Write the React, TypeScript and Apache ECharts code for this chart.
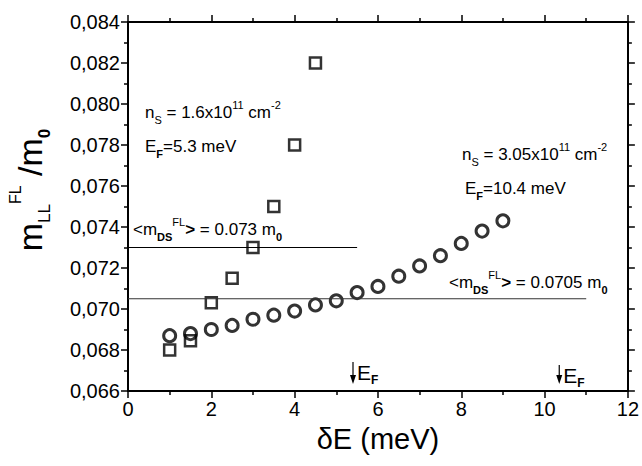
import React, { useEffect, useRef } from "react";
import * as echarts from "echarts";

const energies = [1, 1.5, 2, 2.5, 3, 3.5, 4, 4.5, 5, 5.5, 6, 6.5, 7, 7.5, 8, 8.5, 9];
const massLow = [0.068, 0.06845, 0.0703, 0.0715, 0.073, 0.075, 0.078, 0.082];
const massHigh = [
  0.0687, 0.0688, 0.069, 0.0692, 0.0695, 0.0697, 0.0699, 0.0702, 0.0704, 0.0708,
  0.0711, 0.0716, 0.0721, 0.0726, 0.0732, 0.0738, 0.0743,
];
const avgLow = 0.073;
const avgLowEnd = 5.5;
const avgHigh = 0.0705;
const avgHighEnd = 11;
const fermiArrows = [5.4, 10.35];

const FONT = "Liberation Sans, Arial, sans-serif";

export default function App() {
  const ref = useRef<HTMLDivElement>(null);
  useEffect(() => {
    document.body.style.margin = "0";
    const chart = echarts.init(ref.current!, null, { renderer: "svg" });
    const axisCommon = {
      min: 0,
      max: 12,
      interval: 2,
      axisLine: { onZero: false, lineStyle: { color: "#000", width: 2 } },
      axisTick: { inside: false, length: 7, lineStyle: { color: "#000", width: 1.5 } },
      minorTick: { show: true, splitNumber: 2, length: 4, lineStyle: { color: "#000", width: 1.5 } },
      splitLine: { show: false },
    };
    const yCommon = {
      min: 0.066,
      max: 0.084,
      interval: 0.002,
      axisLine: { onZero: false, lineStyle: { color: "#000", width: 2 } },
      axisTick: { inside: false, length: 7, lineStyle: { color: "#000", width: 1.5 } },
      minorTick: { show: true, splitNumber: 2, length: 4, lineStyle: { color: "#000", width: 1.5 } },
      splitLine: { show: false },
    };
    const rich = {
      n: { fontSize: 17, fontFamily: FONT, color: "#000", lineHeight: 26 },
      sub: { fontSize: 11, fontFamily: FONT, color: "#000", verticalAlign: "bottom", lineHeight: 12 },
      subb: { fontSize: 11, fontFamily: FONT, fontWeight: "bold", color: "#000", verticalAlign: "bottom", lineHeight: 12 },
      sup: { fontSize: 11, fontFamily: FONT, color: "#000", verticalAlign: "top", lineHeight: 12 },
      gt: { fontSize: 17, fontFamily: FONT, fontWeight: "bold", color: "#000", lineHeight: 26 },
    };
    const ann = (x: number, y: number, text: string) => ({
      type: "text",
      x,
      y,
      style: { text, rich, align: "left", verticalAlign: "middle" },
    });
    const efRich = {
      e: { fontSize: 21, fontFamily: FONT, color: "#000", lineHeight: 28 },
      f: { fontSize: 12, fontFamily: FONT, fontWeight: "bold", color: "#000", verticalAlign: "bottom", lineHeight: 12 },
    };
    chart.setOption({
      animation: false,
      grid: { left: 128, right: 14, top: 22, bottom: 75 },
      xAxis: [
        {
          ...axisCommon,
          type: "value",
          position: "bottom",
          name: "δE (meV)",
          nameLocation: "middle",
          nameGap: 33,
          nameTextStyle: { fontSize: 29, fontFamily: FONT, color: "#000" },
          axisLabel: { fontSize: 20, fontFamily: FONT, color: "#000", margin: 8 },
        },
        { ...axisCommon, type: "value", position: "top", axisLabel: { show: false } },
      ],
      yAxis: [
        {
          ...yCommon,
          type: "value",
          position: "left",
          axisLabel: {
            fontSize: 20,
            fontFamily: FONT,
            color: "#000",
            margin: 8,
            formatter: (v: number) => v.toFixed(3).replace(".", ","),
          },
        },
        { ...yCommon, type: "value", position: "right", axisLabel: { show: false } },
      ],
      series: [
        {
          type: "line",
          data: [[0, avgLow], [avgLowEnd, avgLow]],
          symbol: "none",
          lineStyle: { color: "#000", width: 1 },
          silent: true,
        },
        {
          type: "line",
          data: [[0, avgHigh], [avgHighEnd, avgHigh]],
          symbol: "none",
          lineStyle: { color: "#333", width: 1 },
          silent: true,
        },
        {
          type: "scatter",
          data: massLow.map((v, i) => [energies[i], v]),
          symbol: "rect",
          symbolSize: 11,
          itemStyle: { color: "#fff", borderColor: "#000", borderWidth: 2.5 },
        },
        {
          type: "scatter",
          data: massHigh.map((v, i) => [energies[i], v]),
          symbol: "circle",
          symbolSize: 12,
          itemStyle: { color: "rgba(255,255,255,0)", borderColor: "#000", borderWidth: 3 },
        },
      ],
      graphic: [
        ann(145, 112, "{n|n}{sub|S}{n| = 1.6x10}{sup|11}{n| cm}{sup|-2}"),
        ann(145, 146, "{n|E}{subb|F}{n|=5.3 meV}"),
        ann(462, 154, "{n|n}{sub|S}{n| = 3.05x10}{sup|11}{n| cm}{sup|-2}"),
        ann(465, 188, "{n|E}{subb|F}{n|=10.4 meV}"),
        ann(133, 229, "{n|<m}{subb|DS}{sup|FL}{gt|>}{n| = 0.073 m}{subb|0}"),
        ann(449, 282, "{n|<m}{subb|DS}{sup|FL}{gt|>}{n| = 0.0705 m}{subb|0}"),
        {
          type: "text",
          x: 30,
          y: 190,
          rotation: Math.PI / 2,
          style: {
            text: "{m|m}{s|LL}{p|FL}{m| /m}{b|0}",
            align: "center",
            verticalAlign: "middle",
            rich: {
              m: { fontSize: 34, fontFamily: FONT, color: "#000", lineHeight: 46 },
              s: { fontSize: 17, fontFamily: FONT, color: "#000", verticalAlign: "bottom", lineHeight: 18 },
              p: { fontSize: 16, fontFamily: FONT, color: "#000", verticalAlign: "top", lineHeight: 16 },
              b: { fontSize: 17, fontFamily: FONT, fontWeight: "bold", color: "#000", verticalAlign: "bottom", lineHeight: 18 },
            },
          },
        },
        ...fermiArrows.flatMap((xv) => {
          const px = 128 + (xv / 12) * 500;
          const top = xv < 8 ? 362 : 365;
          return [
            { type: "line", shape: { x1: px, y1: top, x2: px, y2: 378 }, style: { stroke: "#000", lineWidth: 1.2 } },
            {
              type: "polygon",
              shape: { points: [[px - 3, 375], [px + 3, 375], [px, 384]] },
              style: { fill: "#000" },
            },
            {
              type: "text",
              x: px + 4,
              y: top + 10,
              style: { text: "{e|E}{f|F}", rich: efRich, align: "left", verticalAlign: "middle" },
            },
          ];
        }),
      ],
    });
    return () => chart.dispose();
  }, []);
  return <div ref={ref} style={{ width: 642, height: 466 }} />;
}
